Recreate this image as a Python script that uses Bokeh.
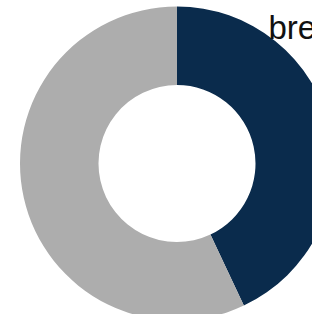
from bokeh.plotting import figure
from bokeh.models import Range1d, ColumnDataSource
from bokeh.core.properties import value
from bokeh.embed import file_html
from bokeh.resources import INLINE
import math

categories = ["yes", "no"]
values = [43, 57]
colors = ["#0a2b4c", "#adadad"]
title_text = "breakfast"

total = sum(values)
starts, ends = [], []
acc = 0.0
for v in values:
    a0 = math.pi / 2 - 2 * math.pi * acc / total
    acc += v
    a1 = math.pi / 2 - 2 * math.pi * acc / total
    starts.append(a0)
    ends.append(a1)

src = ColumnDataSource(dict(cat=categories, val=values, start=starts, end=ends, color=colors))

W, H = 312, 314
S = 157.0
cx, cy = 176.5, 163.0
p = figure(width=W, height=H, output_backend="svg", toolbar_location=None,
           x_range=Range1d((0 - cx) / S, (W - cx) / S),
           y_range=Range1d((cy - H) / S, (cy - 0) / S),
           min_border=0)
p.axis.visible = False
p.grid.visible = False
p.outline_line_color = None
p.background_fill_color = "white"
p.border_fill_color = "white"

p.annular_wedge(x=0, y=0, inner_radius=0.5, outer_radius=1.0,
                start_angle="start", end_angle="end", direction="clock",
                color="color", line_color=None, source=src)

p.text(x=[(268 - cx) / S], y=[(cy - 27) / S], text=[title_text],
       text_font=value("Liberation Sans"), text_font_size="33px",
       text_color="#111111", text_baseline="alphabetic", text_align="left")

open("out.html", "w").write(file_html(p, INLINE))
